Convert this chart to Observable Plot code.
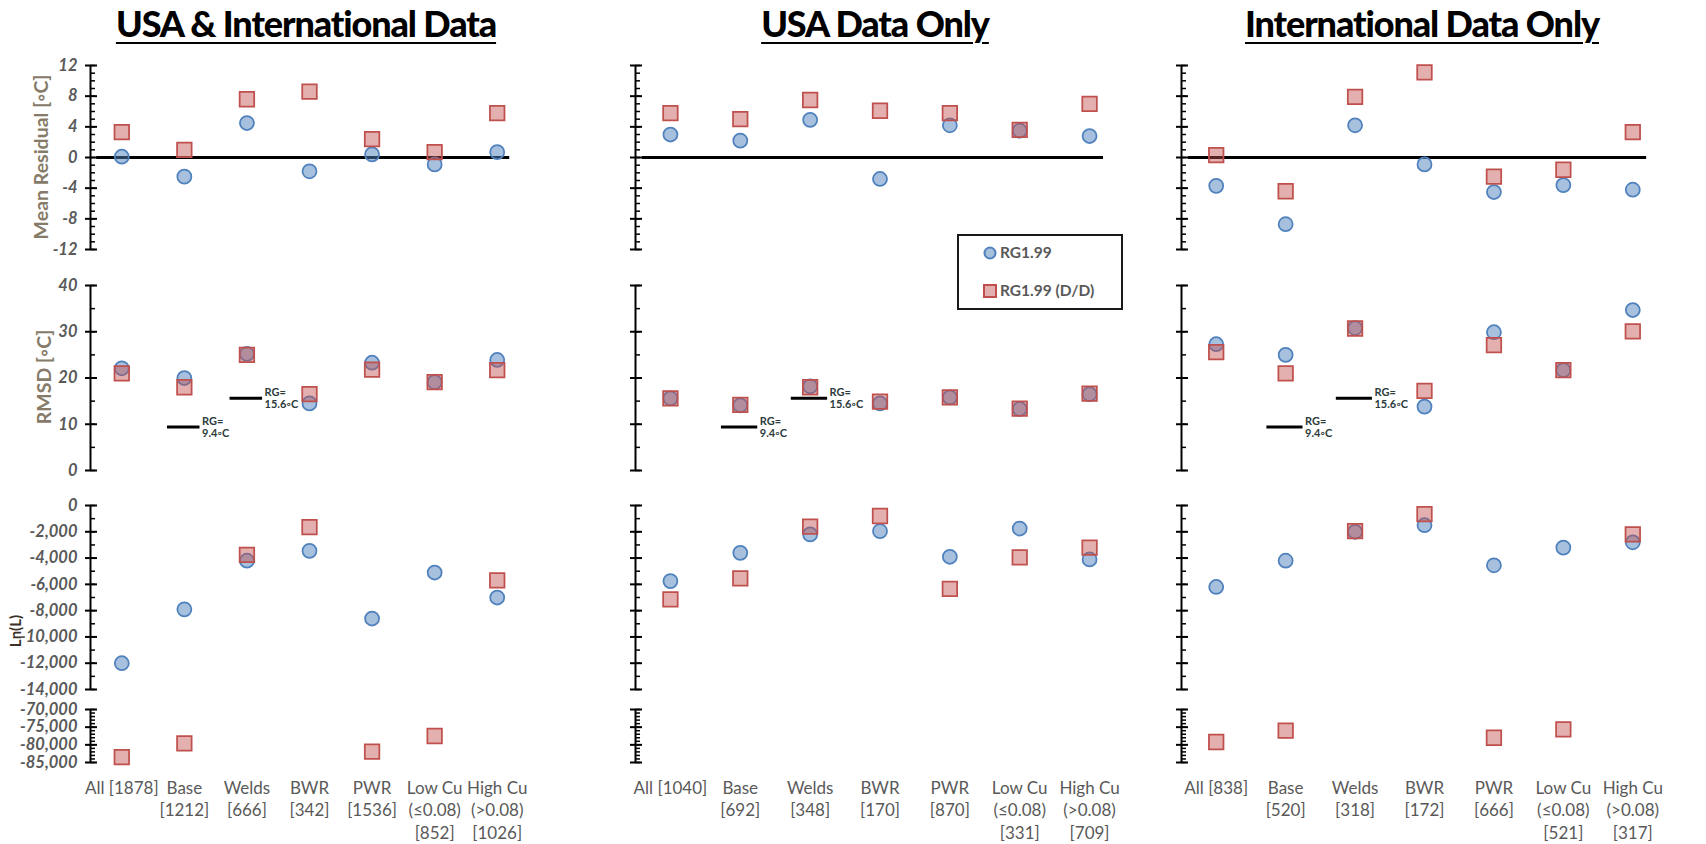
<!DOCTYPE html>
<html>
<head>
<meta charset="utf-8">
<script src="https://cdn.jsdelivr.net/npm/d3@7"></script>
<script src="https://cdn.jsdelivr.net/npm/@observablehq/plot@0.6"></script>
<style>
  body { margin: 0; background: #fff; font-family: Lato, "Open Sans", sans-serif; }
  #chart { position: relative; width: 1706px; height: 844px; overflow: hidden; background: #fff; }
  .panel { position: absolute; }
  .title {
    position: absolute; top: 0px; font-weight: 900; font-size: 36px; letter-spacing: -1.1px;
    text-decoration: underline; text-decoration-thickness: 2px; text-underline-offset: 5px;
    transform: translateX(-50%); white-space: nowrap; color: #000; line-height: 46px;
  }
  .ylab {
    position: absolute; font-weight: 700; white-space: nowrap; color: #857b68;
    transform: translate(-50%, -50%) rotate(-90deg);
  }
  #legend { position: absolute; left: 957px; top: 234px; }
</style>
</head>
<body>
<div id="chart"></div>
<script>
// Category order shared by every panel
const categories = ["All", "Base", "Welds", "BWR", "PWR", "Low Cu", "High Cu"];

// Category tick labels (sample counts in brackets)
const labelsBoth = ["All [1878]", "Base\n[1212]", "Welds\n[666]", "BWR\n[342]", "PWR\n[1536]", "Low Cu\n(≤0.08)\n[852]", "High Cu\n(>0.08)\n[1026]"];
const labelsUsa  = ["All [1040]", "Base\n[692]",  "Welds\n[348]", "BWR\n[170]", "PWR\n[870]",  "Low Cu\n(≤0.08)\n[331]", "High Cu\n(>0.08)\n[709]"];
const labelsIntl = ["All [838]",  "Base\n[520]",  "Welds\n[318]", "BWR\n[172]", "PWR\n[666]",  "Low Cu\n(≤0.08)\n[521]", "High Cu\n(>0.08)\n[317]"];

// Mean residual [°C]
const meanRgBoth  = [0.1, -2.5, 4.5, -1.8, 0.4, -0.9, 0.7];
const meanDdBoth  = [3.3, 1.0, 7.6, 8.6, 2.4, 0.7, 5.8];
const meanRgUsa   = [3.0, 2.2, 4.9, -2.8, 4.2, 3.5, 2.8];
const meanDdUsa   = [5.8, 5.0, 7.5, 6.1, 5.8, 3.6, 7.0];
const meanRgIntl  = [-3.7, -8.7, 4.2, -0.9, -4.5, -3.6, -4.2];
const meanDdIntl  = [0.3, -4.4, 7.9, 11.1, -2.5, -1.6, 3.3];

// RMSD [°C]
const rmsdRgBoth  = [22.1, 20.0, 25.2, 14.5, 23.3, 19.1, 23.9];
const rmsdDdBoth  = [21.0, 18.0, 25.0, 16.5, 21.8, 19.1, 21.7];
const rmsdRgUsa   = [15.6, 14.1, 18.2, 14.5, 15.8, 13.3, 16.5];
const rmsdDdUsa   = [15.6, 14.2, 18.0, 14.9, 15.8, 13.4, 16.6];
const rmsdRgIntl  = [27.3, 25.0, 30.8, 13.8, 29.9, 21.7, 34.7];
const rmsdDdIntl  = [25.6, 21.0, 30.7, 17.2, 27.1, 21.7, 30.1];

// Ln(L)
const lnlRgBoth   = [-12000, -7900, -4200, -3450, -8600, -5100, -7000];
const lnlDdBoth   = [-83500, -79600, -3750, -1650, -81900, -77500, -5700];
const lnlRgUsa    = [-5750, -3600, -2200, -1950, -3900, -1750, -4100];
const lnlDdUsa    = [-7150, -5550, -1600, -800, -6350, -3950, -3200];
const lnlRgIntl   = [-6200, -4200, -2000, -1500, -4550, -3200, -2800];
const lnlDdIntl   = [-79200, -76000, -1950, -650, -78000, -75600, -2200];

// Reference RMSD levels for base metal and welds
const rgLevels = [
  {category: "Base", value: 9.4, label: "RG=\n9.4◦C"},
  {category: "Welds", value: 15.6, label: "RG=\n15.6◦C"}
];

const blue = "#4f81bd", red = "#c0504d", grey = "#595959";
const fmt = d => (d < 0 ? "-" : "") + d3.format(",")(Math.abs(d));

const columns = [
  {title: "USA & International Data", cx: 306, left: 0, width: 560, ml: 90, mr: 32, labels: true, xLabels: labelsBoth,
   mean: [meanRgBoth, meanDdBoth], rmsd: [rmsdRgBoth, rmsdDdBoth], lnl: [lnlRgBoth, lnlDdBoth]},
  {title: "USA Data Only", cx: 875, left: 560, width: 570, ml: 75, mr: 6, labels: false, xLabels: labelsUsa,
   mean: [meanRgUsa, meanDdUsa], rmsd: [rmsdRgUsa, rmsdDdUsa], lnl: [lnlRgUsa, lnlDdUsa]},
  {title: "International Data Only", cx: 1422, left: 1130, width: 576, ml: 51, mr: 39, labels: false, xLabels: labelsIntl,
   mean: [meanRgIntl, meanDdIntl], rmsd: [rmsdRgIntl, rmsdDdIntl], lnl: [lnlRgIntl, lnlDdIntl]}
];

const rows = [
  {key: "mean", top: 55, height: 205, mt: 10, mb: 11, domain: [-12, 12],
   major: d3.range(-12, 13, 4), minor: d3.range(-12, 13, 1), zero: true},
  {key: "rmsd", top: 275, height: 205, mt: 10, mb: 10, domain: [0, 40],
   major: d3.range(0, 41, 10), minor: d3.range(0, 41, 5), rg: true},
  {key: "lnl", top: 495, height: 205, mt: 10, mb: 11, domain: [-14000, 0],
   major: d3.range(-14000, 1, 2000), minor: d3.range(-14000, 1, 1000)},
  {key: "lnl", top: 700, height: 144, mt: 9, mb: 82, domain: [-85000, -70000],
   major: d3.range(-85000, -69999, 5000), minor: d3.range(-85000, -69999, 1000), bottom: true}
];

const chart = document.getElementById("chart");

function points(values, domain) {
  return values
    .map((v, i) => ({i, v}))
    .filter(d => d.v != null && d.v >= domain[0] && d.v <= domain[1]);
}

for (const col of columns) {
  const bw = (col.width - col.ml - col.mr) / categories.length;
  const px = p => p / bw; // pixel offset expressed in x units
  const x0 = -0.5;        // position of the vertical axis

  for (const row of rows) {
    const [rg, dd] = col[row.key];
    const marks = [];

    if (row.zero) {
      marks.push(Plot.ruleY([0], {x1: () => -0.4, x2: () => 6.2, stroke: "#000", strokeWidth: 3}));
    }
    if (row.rg) {
      marks.push(Plot.ruleY(rgLevels, {
        y: "value",
        x1: d => categories.indexOf(d.category) - 0.27,
        x2: d => categories.indexOf(d.category) + 0.25,
        stroke: "#000", strokeWidth: 3
      }));
      marks.push(Plot.text(rgLevels, {
        y: "value",
        x: d => categories.indexOf(d.category) + 0.25,
        text: "label", textAnchor: "start", dx: 2, lineAnchor: "middle",
        fontSize: 11, fontWeight: 700, lineHeight: 1.1, fill: "#2c3b3b"
      }));
    }

    // vertical axis with crossing major ticks and inside minor ticks
    marks.push(Plot.ruleX([x0], {y1: () => row.domain[0], y2: () => row.domain[1], stroke: "#000", strokeWidth: 2}));
    marks.push(Plot.ruleY(row.minor, {x1: () => x0, x2: () => x0 + px(5), stroke: "#000", strokeWidth: 1.5}));
    marks.push(Plot.ruleY(row.major, {x1: () => x0 - px(5), x2: () => x0 + px(7), stroke: "#000", strokeWidth: 2}));

    if (col.labels) {
      marks.push(Plot.text(row.major, {
        x: () => x0, y: d => d, text: fmt, textAnchor: "end", dx: -13,
        fontSize: 16.5, fontWeight: 700, fontStyle: "italic", fill: grey
      }));
    }

    marks.push(Plot.dot(points(rg, row.domain), {
      x: "i", y: "v", r: 7, fill: blue, fillOpacity: 0.5, stroke: blue, strokeWidth: 1.75
    }));
    marks.push(Plot.dot(points(dd, row.domain), {
      x: "i", y: "v", symbol: "square", r: 8.2, fill: red, fillOpacity: 0.45, stroke: red, strokeWidth: 1.75
    }));

    if (row.bottom) {
      marks.push(Plot.text(d3.range(categories.length), {
        x: d => d, frameAnchor: "bottom", text: i => col.xLabels[i], lineAnchor: "top", dy: 15,
        fontSize: 17, lineHeight: 1.33, fill: grey
      }));
    }

    const svg = Plot.plot({
      width: col.width, height: row.height,
      marginLeft: col.ml, marginRight: col.mr, marginTop: row.mt, marginBottom: row.mb,
      x: {domain: [-0.5, 6.5], axis: null},
      y: {domain: row.domain, axis: null},
      style: {fontFamily: "Lato, 'Open Sans', sans-serif", background: "transparent", overflow: "visible"},
      marks
    });
    svg.classList.add("panel");
    svg.style.left = col.left + "px";
    svg.style.top = row.top + "px";
    svg.style.maxWidth = "none";
    chart.appendChild(svg);
  }

  const t = document.createElement("div");
  t.className = "title";
  t.textContent = col.title;
  t.style.left = col.cx + "px";
  chart.appendChild(t);
}

// Row titles
const yLabels = [
  {text: "Mean Residual  [◦C]", x: 40, y: 157, size: 19.5, color: "#857b68"},
  {text: "RMSD  [◦C]", x: 43, y: 377, size: 19.5, color: "#857b68"},
  {text: "Ln(L)", x: 15, y: 631, size: 15, color: "#3a3128"}
];
for (const l of yLabels) {
  const d = document.createElement("div");
  d.className = "ylab";
  d.textContent = l.text;
  d.style.left = l.x + "px";
  d.style.top = l.y + "px";
  d.style.fontSize = l.size + "px";
  d.style.color = l.color;
  chart.appendChild(d);
}

// Legend
const series = [
  {name: "RG1.99", symbol: "circle", color: blue},
  {name: "RG1.99 (D/D)", symbol: "square", color: red}
];
const lg = d3.create("svg").attr("id", "legend").attr("width", 166).attr("height", 76);
lg.append("rect").attr("x", 1).attr("y", 1).attr("width", 164).attr("height", 74)
  .attr("fill", "#fff").attr("stroke", "#1a1a1a").attr("stroke-width", 2);
series.forEach((s, k) => {
  const cy = 19 + k * 38;
  if (s.symbol === "circle") {
    lg.append("circle").attr("cx", 33).attr("cy", cy).attr("r", 5.5)
      .attr("fill", s.color).attr("fill-opacity", 0.5).attr("stroke", s.color).attr("stroke-width", 2);
  } else {
    lg.append("rect").attr("x", 27).attr("y", cy - 6).attr("width", 12).attr("height", 12)
      .attr("fill", s.color).attr("fill-opacity", 0.45).attr("stroke", s.color).attr("stroke-width", 2);
  }
  lg.append("text").attr("x", 43).attr("y", cy).attr("dy", "0.35em")
    .attr("font-family", "Lato, sans-serif").attr("font-weight", 700).attr("font-size", 15.5)
    .attr("fill", grey).text(s.name);
});
chart.appendChild(lg.node());
</script>
</body>
</html>
